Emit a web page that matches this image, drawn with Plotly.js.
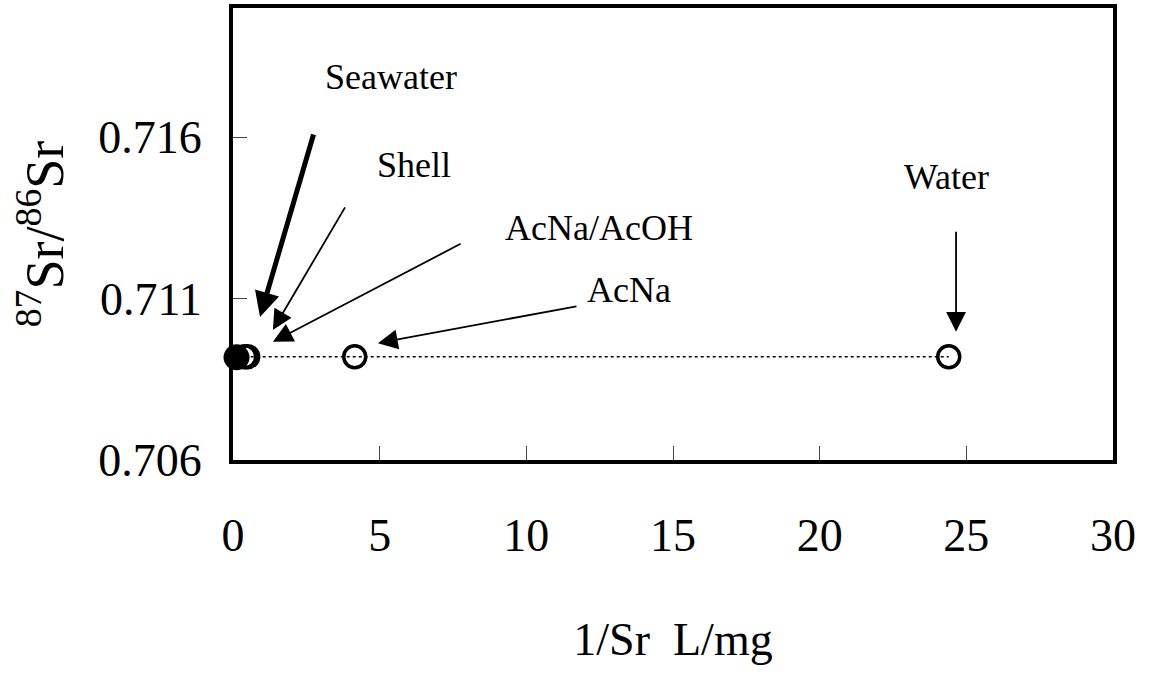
<!DOCTYPE html>
<html>
<head>
<meta charset="utf-8">
<script src="https://cdn.plot.ly/plotly-3.0.1.min.js"></script>
<style>html,body{margin:0;padding:0;background:#fff;}#chart{width:1151px;height:678px;}</style>
</head>
<body>
<div id="chart"></div>
<script>
// Data
const sampleNames = ['Seawater', 'Shell', 'AcNa/AcOH', 'AcNa', 'Water'];
const invSr = [0.12, 0.4, 0.5, 4.15, 24.4];          // 1/Sr, L/mg
const srRatio = [0.70918, 0.7092, 0.7092, 0.7092, 0.7092]; // 87Sr/86Sr
const xTicks = [0, 5, 10, 15, 20, 25, 30];
const yTicks = [0.706, 0.711, 0.716];

const openX = invSr.slice(1), openY = srRatio.slice(1);
const SERIF = '"Liberation Serif", "Times New Roman", Times, serif';

const traces = [
  {
    x: openX, y: openY, type: 'scatter', mode: 'lines+markers',
    line: {color: '#000', width: 1.5, dash: 'dot'},
    marker: {symbol: 'circle-open', size: 22, color: '#000', line: {width: 3.5, color: '#000'}},
    cliponaxis: false, hoverinfo: 'x+y', showlegend: false
  },
  {
    x: [invSr[0]], y: [srRatio[0]], type: 'scatter', mode: 'markers',
    marker: {symbol: 'circle', size: 26, color: '#000'},
    cliponaxis: false, showlegend: false
  }
];

const labelFont = {family: SERIF, size: 36, color: '#000'};
function arrow(hx, hy, tx, ty, w, s) {
  return {x: hx, y: hy, ax: tx, ay: ty, xref: 'x', yref: 'y', axref: 'x', ayref: 'y',
    text: '', showarrow: true, arrowhead: 2, arrowwidth: w, arrowsize: s, arrowcolor: '#000', standoff: 0};
}
function label(t, x, y) {
  return {x: x, y: y, xref: 'x', yref: 'y', text: t, showarrow: false, font: labelFont, xanchor: 'center', yanchor: 'middle'};
}

const annotations = [
  arrow(0.92, 0.71043, 2.76, 0.71613, 5, 1.0),
  arrow(1.36, 0.71003, 3.85, 0.71387, 1.8, 2.2),
  arrow(1.36, 0.70966, 7.81, 0.71272, 1.8, 2.2),
  arrow(4.94, 0.70962, 11.76, 0.71077, 1.8, 2.2),
  arrow(24.65, 0.70997, 24.65, 0.71312, 1.8, 2.2),
  label(sampleNames[0], 5.39, 0.71786),
  label(sampleNames[1], 6.17, 0.71514),
  label(sampleNames[2], 12.48, 0.71319),
  label(sampleNames[3], 13.5, 0.71127),
  label(sampleNames[4], 24.34, 0.71477)
];

const tickFont = {family: SERIF, size: 46, color: '#000'};

const layout = {
  width: 1151, height: 678,
  margin: {l: 233, r: 38, t: 8, b: 218},
  paper_bgcolor: '#fff', plot_bgcolor: '#fff',
  showlegend: false,
  font: {family: SERIF, color: '#000'},
  xaxis: {
    range: [0, 30], tickvals: xTicks, ticktext: xTicks.map(String),
    ticks: 'inside', ticklen: 14, tickwidth: 1, tickcolor: '#444',
    showline: true, linewidth: 4, linecolor: '#000', mirror: true,
    showgrid: false, zeroline: false,
    tickfont: tickFont, ticklabelstandoff: 32,
    title: {text: '1/Sr  L/mg', font: {family: SERIF, size: 46, color: '#000'}, standoff: 64}
  },
  yaxis: {
    range: [0.706, 0.720], tickvals: yTicks, ticktext: yTicks.map(v => v.toFixed(3)),
    ticks: 'inside', ticklen: 14, tickwidth: 1, tickcolor: '#444',
    showline: true, linewidth: 4, linecolor: '#000', mirror: true,
    showgrid: false, zeroline: false,
    tickfont: tickFont, ticklabelstandoff: 18,
    title: {text: '<sup>87</sup>Sr/<sup>86</sup>Sr', font: {family: SERIF, size: 54, color: '#000'}, standoff: 18}
  },
  annotations: annotations
};

Plotly.newPlot('chart', traces, layout, {displayModeBar: false, staticPlot: true});
</script>
</body>
</html>
